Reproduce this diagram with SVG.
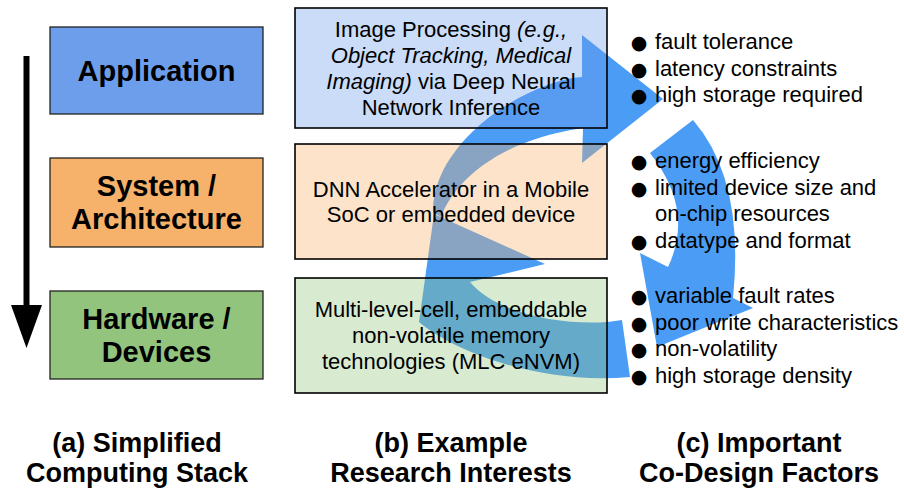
<svg xmlns="http://www.w3.org/2000/svg" width="904" height="494" viewBox="0 0 904 494">
  <style>
    text { font-family: "Liberation Sans", Arial, sans-serif; fill: #000; }
    .stack { font-weight: bold; font-size: 29px; text-anchor: middle; }
    .mid { font-size: 22px; text-anchor: middle; }
    .fac { font-size: 22px; }
    .dot { font-family: "DejaVu Sans", sans-serif; font-size: 19px; text-anchor: middle; }
    .cap { font-weight: bold; font-size: 27px; text-anchor: middle; }
    .it { font-style: italic; }
    .solid { stroke: #222; stroke-width: 1.3; }
    .tint { stroke: #000; stroke-width: 1.6; fill-opacity: 0.36; }
    .c-blue { fill: #6d9eeb; }
    .c-orange { fill: #f6b26b; }
    .c-green { fill: #93c47d; }
    .cycle { fill: #4b9cf5; }
  </style>
  <defs>
    <marker id="down-head" viewBox="0 0 10 10" refX="0" refY="5" markerUnits="userSpaceOnUse" markerWidth="43" markerHeight="31" orient="auto" preserveAspectRatio="none">
      <path d="M0,0 L10,5 L0,10 Z" fill="#000"/>
    </marker>
  </defs>

  <!-- co-design cycle arrows, underneath the translucent example boxes -->
  <g id="cycle">
    <path class="cycle" d="M663,99 L582,35 L582,77 C530,80 432,140 433,212 L441,217 C455,180 500,140 583,128 L582,163 Z"/>
    <path class="cycle" d="M693,120 Q745,180 733,298 L753,308 L657,347 L640,253 L668,267 Q695,210 650,153 Z"/>
    <path class="cycle" d="M622,320 C580,328 500,318 470,282 L545,264 L434,214 L419,322 C455,352 540,385 630,377 Z"/>
  </g>

  <!-- top-down arrow beside the stack -->
  <g id="connectors">
    <line x1="26.5" y1="56" x2="26.5" y2="305" stroke="#000" stroke-width="6" marker-end="url(#down-head)"/>
  </g>

  <!-- (a) computing stack -->
  <g id="stack-application">
    <rect class="solid c-blue" x="50" y="27" width="213" height="87"/>
    <text class="stack" x="156.5" y="81">Application</text>
  </g>
  <g id="stack-system">
    <rect class="solid c-orange" x="50" y="158" width="213" height="89"/>
    <text class="stack" x="156.5" y="196">System /</text>
    <text class="stack" x="156.5" y="229">Architecture</text>
  </g>
  <g id="stack-hardware">
    <rect class="solid c-green" x="50" y="291" width="213" height="88"/>
    <text class="stack" x="156.5" y="329">Hardware /</text>
    <text class="stack" x="156.5" y="362">Devices</text>
  </g>

  <!-- (b) research interests -->
  <g id="interest-application">
    <rect class="tint c-blue" x="295" y="8" width="312" height="120"/>
    <text class="mid" x="451" y="37">Image Processing <tspan class="it">(e.g.,</tspan></text>
    <text class="mid it" x="451" y="63">Object Tracking, Medical</text>
    <text class="mid" x="451" y="89"><tspan class="it">Imaging)</tspan> via Deep Neural</text>
    <text class="mid" x="451" y="115">Network Inference</text>
  </g>
  <g id="interest-system">
    <rect class="tint c-orange" x="295" y="144" width="312" height="115"/>
    <text class="mid" x="451" y="197">DNN Accelerator in a Mobile</text>
    <text class="mid" x="451" y="222">SoC or embedded device</text>
  </g>
  <g id="interest-hardware">
    <rect class="tint c-green" x="295" y="278" width="312" height="115"/>
    <text class="mid" x="451" y="317">Multi-level-cell, embeddable</text>
    <text class="mid" x="451" y="343">non-volatile memory</text>
    <text class="mid" x="451" y="369">technologies (MLC eNVM)</text>
  </g>

  <!-- (c) co-design factors -->
  <g id="factors-application">
    <text class="dot" x="639" y="49">●</text><text class="fac" x="655" y="49">fault tolerance</text>
    <text class="dot" x="639" y="75.5">●</text><text class="fac" x="655" y="75.5">latency constraints</text>
    <text class="dot" x="639" y="102">●</text><text class="fac" x="655" y="102">high storage required</text>
  </g>
  <g id="factors-system">
    <text class="dot" x="639" y="168">●</text><text class="fac" x="655" y="168">energy efficiency</text>
    <text class="dot" x="639" y="194.5">●</text><text class="fac" x="655" y="194.5">limited device size and</text>
    <text class="fac" x="655" y="221">on-chip resources</text>
    <text class="dot" x="639" y="247.5">●</text><text class="fac" x="655" y="247.5">datatype and format</text>
  </g>
  <g id="factors-hardware">
    <text class="dot" x="639" y="303">●</text><text class="fac" x="655" y="303">variable fault rates</text>
    <text class="dot" x="639" y="329.5">●</text><text class="fac" x="655" y="329.5">poor write characteristics</text>
    <text class="dot" x="639" y="356">●</text><text class="fac" x="655" y="356">non-volatility</text>
    <text class="dot" x="639" y="382.5">●</text><text class="fac" x="655" y="382.5">high storage density</text>
  </g>

  <!-- column captions -->
  <g id="caption-a">
    <text class="cap" x="137" y="452">(a) Simplified</text>
    <text class="cap" x="137" y="482">Computing Stack</text>
  </g>
  <g id="caption-b">
    <text class="cap" x="451" y="452">(b) Example</text>
    <text class="cap" x="451" y="482">Research Interests</text>
  </g>
  <g id="caption-c">
    <text class="cap" x="759" y="452">(c) Important</text>
    <text class="cap" x="759" y="482">Co-Design Factors</text>
  </g>
</svg>
